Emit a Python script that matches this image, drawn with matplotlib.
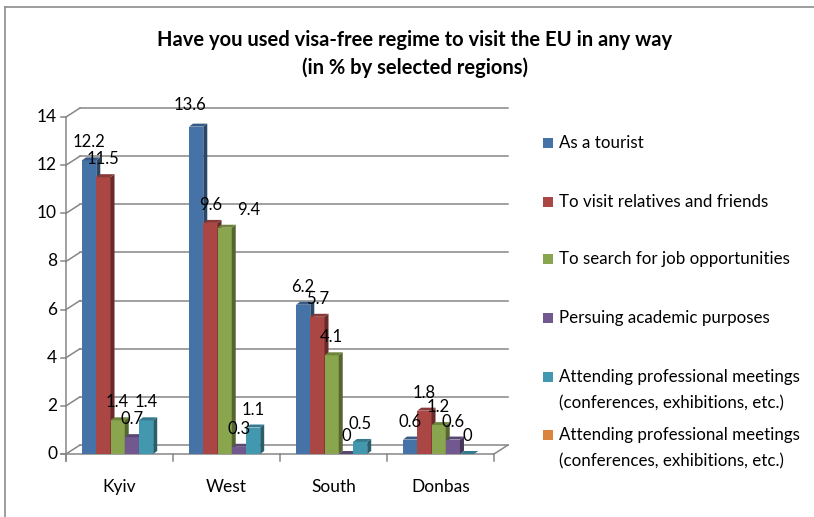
import matplotlib
matplotlib.use('Agg')
import matplotlib.pyplot as plt
from matplotlib.patches import Polygon, Rectangle
from matplotlib.lines import Line2D
from matplotlib.transforms import Affine2D, IdentityTransform
import numpy as np

# ---------------- data ----------------
categories = ['Kyiv', 'West', 'South', 'Donbas']
series_names = [
    'As a tourist',
    'To visit relatives and friends',
    'To search for job opportunities',
    'Persuing academic purposes',
    'Attending professional meetings\n(conferences, exhibitions, etc.)',
    'Attending professional meetings\n(conferences, exhibitions, etc.)',
]
tourist = [12.2, 13.6, 6.2, 0.6]
relatives = [11.5, 9.6, 5.7, 1.8]
job = [1.4, 9.4, 4.1, 1.2]
academic = [0.7, 0.3, 0, 0.6]
meetings = [1.4, 1.1, 0.5, 0]
meetings_2 = [None, None, None, None]   # series present in legend only
yticks = [0, 2, 4, 6, 8, 10, 12, 14]
title = 'Have you used visa-free regime to visit the EU in any way\n(in % by selected regions)'

series = [tourist, relatives, job, academic, meetings, meetings_2]
colors = ['#4572A7', '#AA4643', '#89A54E', '#71588F', '#4198AF', '#DB843D']

# ---------------- layout ----------------
W, H, DPI = 814, 517, 100
FONT = 'Lato'
plt.rcParams['font.family'] = [FONT, 'DejaVu Sans']

fig = plt.figure(figsize=(W / DPI, H / DPI), dpi=DPI)
fig.patch.set_facecolor('white')

def fpos(x, y):
    """pixel (from top-left) -> figure fraction"""
    return x / W, 1 - y / H

ax = fig.add_axes([66 / W, (H - 454) / H, (494 - 66) / W, (454 - 117) / H])
ax.set_xlim(0, len(categories))
ax.set_ylim(0, 14)
ax.set_axis_off()

DX, DY = 14, 9          # depth of the 3D box (pixels)
CX, CY = 4, 3           # depth of each bar (pixels)
grid_c = '#868686'
tr = ax.transData
back = tr + Affine2D().translate(DX, DY)
ident = IdentityTransform()

def disp(x, y):
    return np.array(tr.transform((x, y)))

def line_px(p0, p1, **kw):
    ax.add_line(Line2D([p0[0], p1[0]], [p0[1], p1[1]], transform=ident,
                       clip_on=False, **kw))

# outer frame
fig.add_artist(Line2D([5 / W, 5 / W], [1 - 7 / H, 0], transform=fig.transFigure,
                      color='#8c8c8c', lw=1.2))
fig.add_artist(Line2D([5 / W, 1], [1 - 7 / H, 1 - 7 / H], transform=fig.transFigure,
                      color='#8c8c8c', lw=1.2))

TICK_FS = 12.5
# back wall gridlines + left wall diagonals + ticks
for v in yticks:
    ax.plot([0, len(categories)], [v, v], transform=back, color=grid_c, lw=1.1,
            clip_on=False, zorder=1)
    p = disp(0, v)
    line_px(p, p + (DX, DY), color=grid_c, lw=1.1, zorder=1)
    line_px(p - (5, 0), p, color=grid_c, lw=1.1, zorder=1)
    ax.annotate(str(v), xy=(0, v), xytext=(-9, 0), textcoords='offset pixels',
                ha='right', va='center', fontsize=TICK_FS, annotation_clip=False)

# front axis line
p_top = disp(0, 14)
p_bot = disp(0, 0)
line_px(p_bot - (0, 7), p_top, color=grid_c, lw=1.1, zorder=1)
# floor front line and right diagonal
p_r = disp(len(categories), 0)
line_px(p_bot - (5, 0), p_r, color=grid_c, lw=1.1, zorder=1)
line_px(p_r, p_r + (DX, DY), color=grid_c, lw=1.1, zorder=1)
for i in range(len(categories) + 1):
    q = disp(i, 0)
    line_px(q - (0, 7), q, color=grid_c, lw=1.1, zorder=1)

for i, c in enumerate(categories):
    ax.annotate(c, xy=(i + 0.5, 0), xytext=(0, -33), textcoords='offset pixels',
                ha='center', va='center', fontsize=TICK_FS, annotation_clip=False)

# bars
BW = 0.133
START = 0.15
label_nudge = {(0, 1): (-6, 4), (2, 1): (24, 0)}

def shade(hexc, f):
    c = np.array(matplotlib.colors.to_rgb(hexc))
    return tuple(np.clip(c * f, 0, 1))

z = 3
for s, vals in enumerate(series):
    col = colors[s]
    for i, v in enumerate(vals):
        if v is None:
            continue
        x0 = i + START + s * BW
        if v > 0:
            ax.bar(x0, v, width=BW, align='edge', color=col, linewidth=0,
                   zorder=z, clip_on=False)
        a = disp(x0, v)
        b = disp(x0 + BW, v)
        b0 = disp(x0 + BW, 0)
        off = np.array([CX, CY])
        ax.add_patch(Polygon([b0, b, b + off, b0 + off], closed=True,
                             facecolor=shade(col, 0.62), linewidth=0,
                             transform=ident, clip_on=False, zorder=z))
        ax.add_patch(Polygon([a, b, b + off, a + off], closed=True,
                             facecolor=shade(col, 0.8), linewidth=0,
                             transform=ident, clip_on=False, zorder=z))
        z += 1
        nx, ny = label_nudge.get((s, i), (0, 0))
        ax.annotate('%g' % v, xy=(x0 + BW / 2, v), xytext=(nx, 18 + ny),
                    textcoords='offset pixels', ha='center', va='center',
                    fontsize=12, zorder=100, annotation_clip=False)

# title
fig.text(*fpos(415, 54), title, ha='center', va='center', fontsize=14.5,
         fontweight='bold', linespacing=1.45)

# legend (manual, Excel style)
legend_y = [143, 202, 259, 318, 377, 435]
for name, col, y in zip(series_names, colors, legend_y):
    fig.add_artist(Rectangle(fpos(543, y + 5), 10 / W, 10 / H, transform=fig.transFigure,
                             facecolor=col, edgecolor='none'))
    for k, line in enumerate(name.split('\n')):
        fig.text(*fpos(559, y + 26 * k), line, ha='left', va='center', fontsize=12.2)

fig.savefig('out.png', dpi=DPI, facecolor='white')
